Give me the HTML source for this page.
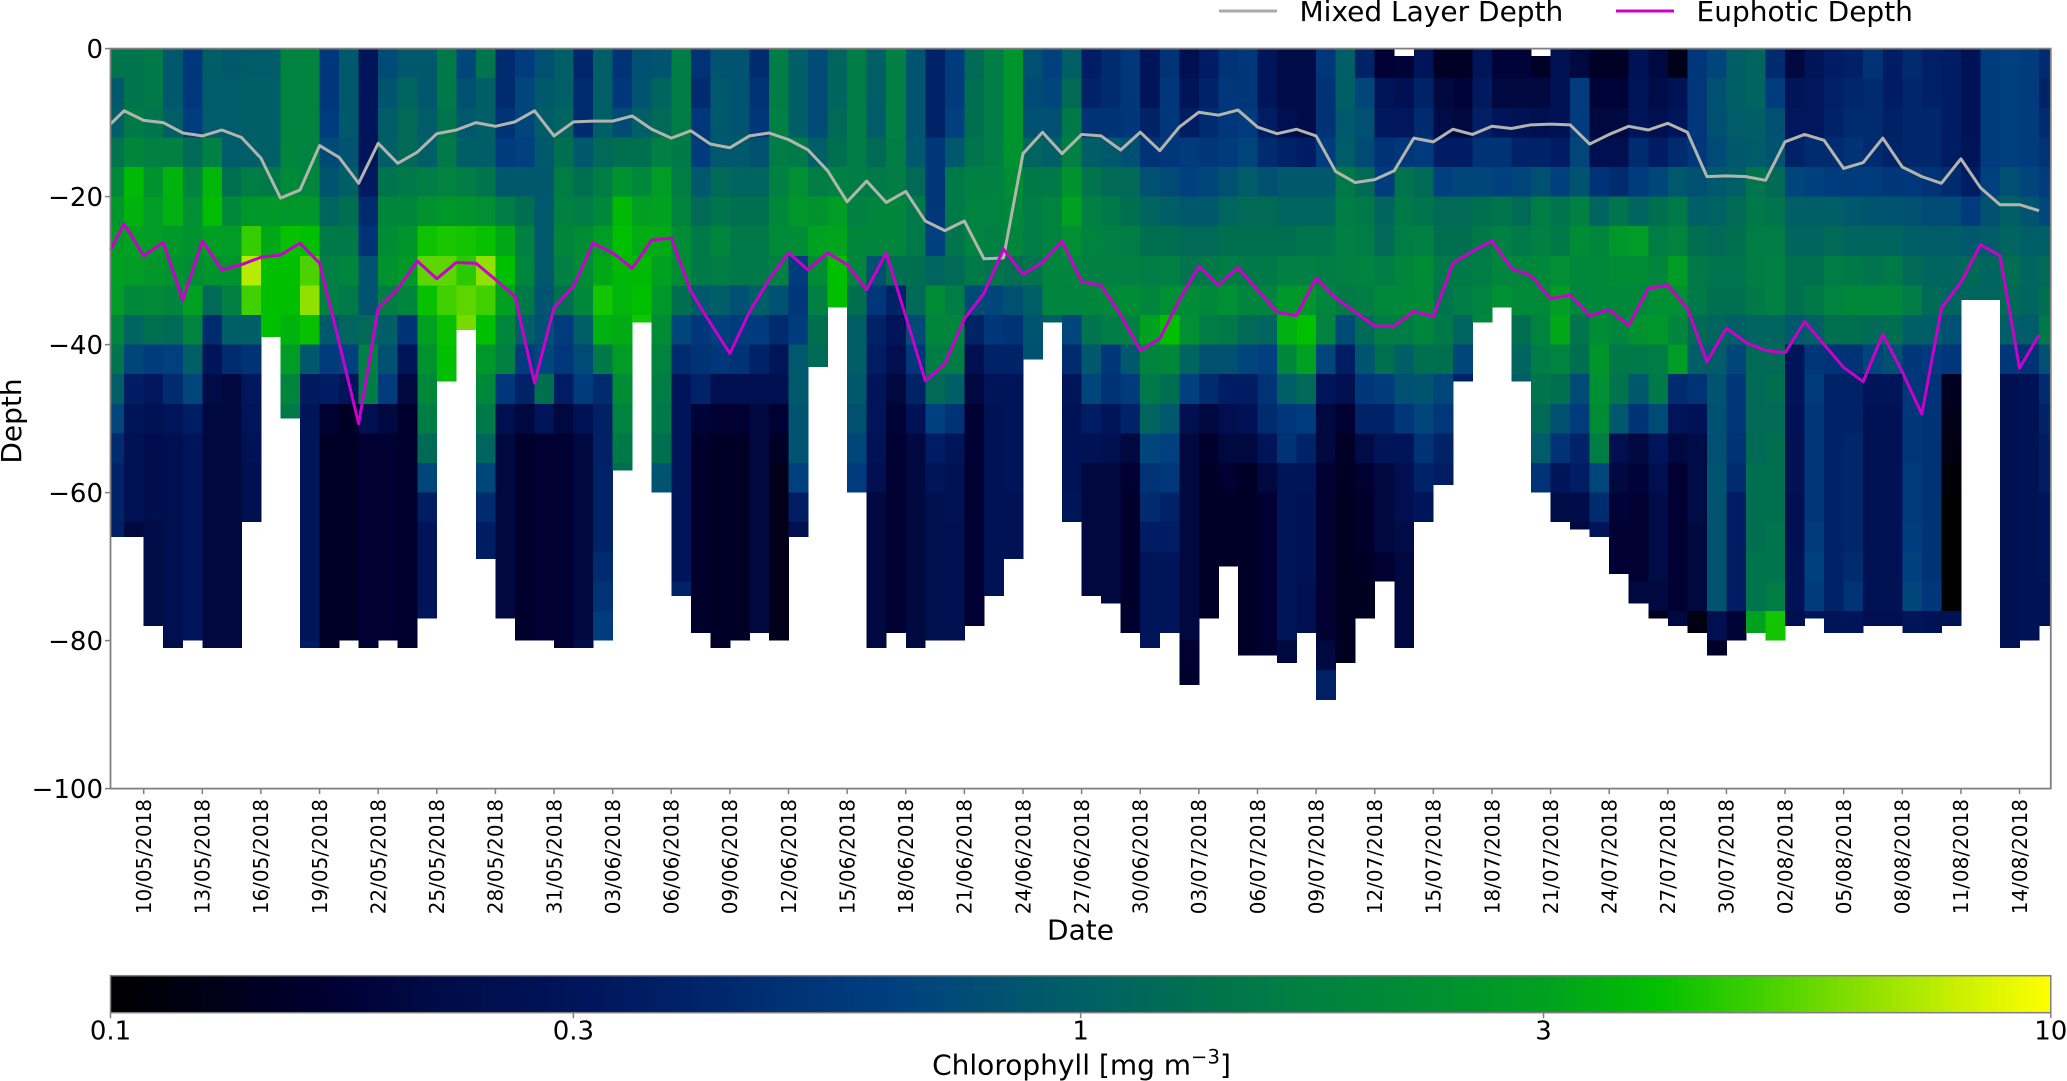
<!DOCTYPE html>
<html>
<head>
<meta charset="utf-8">
<title>Chlorophyll depth section</title>
<style>
html,body{margin:0;padding:0;background:#fff;}
svg{display:block;}
text{font-family:"DejaVu Sans","Liberation Sans",sans-serif;fill:#000;}
</style>
</head>
<body>
<svg id="chart" xmlns="http://www.w3.org/2000/svg" width="2067" height="1081" viewBox="0 0 2067 1081">
  <g id="heatmap"></g>
  <g id="lines"></g>
  <g id="axes"></g>
  <g id="colorbar"></g>
  <g id="legend"></g>
</svg>
<script>
const sampleDays = [-1.7,-1,0,1,2,3,4,5,6,7,8,9,10,11,12,13,14,15,16,17,18,19,20,21,22,23,24,25,26,27,28,29,30,31,32,33,34,35,36,37,38,39,40,41,42,43,44,45,46,47,48,49,50,51,52,53,54,55,56,57,58,59,60,61,62,63,64,65,66,67,68,69,70,71,72,73,74,75,76,77,78,79,80,81,82,83,84,85,86,87,88,89,90,91,92,93,94,95,96,97];
const lastDayEdge = 97.6;
const tickDays = [0,3,6,9,12,15,18,21,24,27,30,33,36,39,42,45,48,51,54,57,60,63,66,69,72,75,78,81,84,87,90,93,96];
const tickLabels = ["10/05/2018","13/05/2018","16/05/2018","19/05/2018","22/05/2018","25/05/2018","28/05/2018","31/05/2018","03/06/2018","06/06/2018","09/06/2018","12/06/2018","15/06/2018","18/06/2018","21/06/2018","24/06/2018","27/06/2018","30/06/2018","03/07/2018","06/07/2018","09/07/2018","12/07/2018","15/07/2018","18/07/2018","21/07/2018","24/07/2018","27/07/2018","30/07/2018","02/08/2018","05/08/2018","08/08/2018","11/08/2018","14/08/2018"];
const depthTicks = [0,-20,-40,-60,-80,-100];
const colorbarTicks = [0.1,0.3,1,3,10];
const mixedLayerDepth = [-10.2,-8.4,-9.7,-10,-11.4,-11.8,-11,-12,-14.8,-20.2,-19.1,-13.1,-14.7,-18.2,-12.8,-15.5,-14,-11.5,-11,-10,-10.5,-9.9,-8.4,-11.8,-9.9,-9.8,-9.8,-9.1,-10.9,-12.1,-11.1,-12.9,-13.4,-11.8,-11.4,-12.3,-13.7,-16.5,-20.7,-17.9,-20.8,-19.3,-23.3,-24.6,-23.3,-28.4,-28.3,-14.2,-11.3,-14.2,-11.6,-11.8,-13.7,-11.3,-13.8,-10.6,-8.6,-9,-8.3,-10.6,-11.5,-10.9,-11.8,-16.6,-18.1,-17.7,-16.5,-12.1,-12.6,-10.9,-11.6,-10.5,-10.8,-10.3,-10.2,-10.3,-12.9,-11.6,-10.5,-11,-10.1,-11.3,-17.3,-17.2,-17.3,-17.8,-12.6,-11.6,-12.4,-16.2,-15.4,-12.1,-16,-17.3,-18.2,-14.9,-18.8,-21.1,-21.1,-21.9];
const euphoticDepth = [-27.2,-23.7,-28,-26.2,-34,-26,-29.9,-29.2,-28.2,-27.9,-26.3,-29,-39.7,-50.7,-35.1,-32.5,-28.7,-31.1,-28.9,-29,-31.2,-33.5,-45.2,-35,-32.1,-26.3,-27.6,-29.7,-25.9,-25.6,-32.8,-37.1,-41.2,-35.6,-31.2,-27.6,-29.9,-27.6,-29.2,-32.6,-27.6,-36.2,-44.9,-42.6,-36.5,-33.1,-27.1,-30.5,-28.9,-26,-31.5,-32,-36,-40.8,-39.2,-34,-29.4,-32,-29.6,-32.6,-35.6,-36.1,-31,-33.7,-35.6,-37.5,-37.5,-35.5,-36.2,-29,-27.4,-26,-29.7,-30.7,-33.8,-33.3,-36.1,-35.3,-37.4,-32.4,-32,-35.1,-42.3,-37.8,-39.7,-40.8,-41.1,-36.9,-40,-43.1,-45,-38.6,-43.7,-49.4,-35.1,-31.6,-26.5,-28,-43.2,-38.7];
const profileBottom = [66,66,78,81,80,81,81,64,39,50,81,81,80,81,80,81,77,45,38,69,77,80,80,81,81,80,57,37,60,74,79,81,80,79,80,66,43,35,60,81,79,81,80,80,78,74,69,42,37,64,74,75,79,81,79,86,77,70,82,82,83,79,88,83,77,72,81,64,59,45,37,35,45,60,64,65,66,71,75,77,78,79,82,80,79,80,78,77,79,79,78,78,79,79,78,34,34,81,80,78];
const profileTop = [0,0,0,0,0,0,0,0,0,0,0,0,0,0,0,0,0,0,0,0,0,0,0,0,0,0,0,0,0,0,0,0,0,0,0,0,0,0,0,0,0,0,0,0,0,0,0,0,0,0,0,0,0,0,0,0,0,0,0,0,0,0,0,0,0,0,1,0,0,0,0,0,0,1,0,0,0,0,0,0,0,0,0,0,0,0,0,0,0,0,0,0,0,0,0,0,0,0,0,0];
const depthBinSize = 4;
/* chlorophyll (mg m-3) per sampling column, one value per 4 m depth bin from the surface down */
const chlorophyll = [
[1.4,.9,1,1.4,2,2.6,2.8,3,2.8,1.9,1.4,1,.7,.45,.4,.4,.38],
[1.4,1.4,1.5,1.9,3.7,3.5,3,2.8,2,1.1,.7,.35,.3,.27,.27,.27,.2],
[1.5,1.5,1.4,1.7,2.4,2.8,2.8,2.6,2.1,1.3,.6,.32,.27,.24,.24,.24,.22,.22,.22,.22],
[.9,.9,1,1.7,3.5,3.4,2.6,2.4,1.9,1.2,.65,.45,.3,.25,.25,.25,.25,.25,.25,.25,.22],
[.55,.55,.62,1.2,1.8,2.3,2.4,2.2,3,1.8,1,.7,.35,.3,.3,.3,.3,.3,.3,.3],
[1,.95,.95,1.7,3.6,3.8,2.9,2.5,1.2,.45,.3,.22,.2,.2,.2,.2,.2,.2,.2,.2,.2],
[.9,.95,.95,.95,1.3,2,2.8,2.5,1.7,1,.45,.2,.2,.2,.2,.2,.2,.2,.2,.2,.2],
[.95,1,1,1,1.6,2.6,4.8,7.5,5,1,.5,.32,.3,.28,.25,.25],
[.95,1,1,1,1.5,2.7,3.2,3.9,3.9,3.9],
[1.8,1.8,1.8,1.9,2.1,2.6,4,3.9,3.9,3.5,2.8,1.9,1.5],
[1.8,1.8,1.8,1.8,1.9,2.6,3.9,5.2,6.5,4,.9,.33,.3,.3,.3,.3,.3,.3,.3,.3,.35],
[.55,.55,.6,.75,.85,1.1,1.5,1.7,1.7,.9,.6,.35,.17,.15,.15,.15,.15,.15,.15,.15,.15],
[.9,.9,.9,.85,1,1.3,1.5,1.9,1.5,1.1,.65,.3,.15,.15,.15,.15,.15,.15,.15,.15],
[.3,.3,.3,.3,.33,.45,.5,.85,.85,1.2,1.7,1.6,.25,.17,.17,.17,.17,.17,.17,.17,.17],
[.75,.85,.95,1,1.4,1.9,2.2,2.4,1.6,1,.8,.6,.2,.17,.17,.17,.17,.17,.17,.17],
[.9,1.1,1.2,1.2,1.5,1.9,2.5,2.7,1.9,.5,.3,.2,.16,.16,.16,.16,.16,.16,.16,.16,.16],
[.9,.9,.95,1,1.6,2.4,4.1,5.5,4,3,2.4,2,1.6,1.2,.7,.35,.3,.3,.3,.3],
[1.5,1.5,1.4,1.5,1.8,2.6,4.3,5.5,5,4,3.9,3.9],
[.7,.8,.9,1,1.6,2.5,4.2,4.6,5.5,6],
[1.4,1,1,1,1.4,2.3,4,6.5,5,3.9,2.6,2,1.5,1.1,.7,.45,.35,.35],
[.45,.45,.5,.6,.9,1.6,3.2,3.9,3,1.9,1.7,.55,.25,.2,.2,.2,.2,.2,.2,.2],
[.6,.7,.7,.65,.9,1.3,1.7,1.9,1.5,1,.6,.4,.2,.16,.16,.16,.16,.16,.16,.16],
[.8,.9,.95,.9,.9,.9,.9,.9,.85,.8,.7,1.3,.3,.17,.17,.17,.17,.17,.17,.17],
[1,1,1.1,1.3,1.6,1.7,1.9,1.7,1.3,.6,.55,.35,.2,.17,.17,.17,.17,.17,.17,.17,.17],
[.42,.45,.45,.9,1.3,1.6,2.2,2.2,2,1,.75,.6,.28,.2,.2,.2,.2,.2,.2,.2,.22],
[1,1,1,1.2,1.6,2,2.8,3.2,4.2,3.4,1.5,.45,.38,.38,.4,.4,.4,.45,.5,.6],
[.5,.55,.75,1.3,2.4,3.7,3.9,3.7,3.6,3.3,2.8,2.2,1.8,1.5,1.3],
[.8,.85,1,1.3,2,2.9,3.3,3.7,3.9,4.2],
[.85,1.1,1.2,1.7,2.8,3,3.3,3,2.6,2.2,1.8,1.6,1.5,1.3,.85],
[1.6,1.6,1.6,1.5,1.6,1.8,2.2,2.2,1.3,.7,.45,.3,.3,.3,.3,.3,.3,.3,.4],
[.5,.45,.55,.6,.9,1.2,1.5,1.5,.9,.55,.5,.4,.18,.16,.16,.16,.16,.16,.16,.16],
[.85,.9,.9,.9,1.2,1.4,1.9,1.6,1,.65,.55,.25,.17,.15,.15,.15,.15,.15,.15,.15,.15],
[.85,.85,.85,.9,1.1,1.3,1.5,1.5,.8,.6,.5,.25,.17,.15,.15,.15,.15,.15,.15,.15],
[.45,.5,.55,.8,1.1,1.3,1.5,1.5,1,.6,.4,.25,.2,.2,.2,.2,.2,.2,.2,.2],
[1.6,1.6,1.7,1.6,1.7,2,2.1,1.7,.8,.45,.3,.25,.17,.15,.13,.13,.13,.13,.13,.13],
[1,1,1,1.5,2.3,2.6,2.2,.6,.55,.6,.9,.9,.85,.85,.65,.35,.25],
[.75,.75,.75,1,1.6,2.4,3,2.2,1.7,1.3,1.2],
[1.1,1.1,1.2,1.3,1.7,2.8,3.1,3.9,3.9],
[1.6,1.6,1.6,1.6,1.6,1.7,1.9,1.9,1.3,1,1,.9,.8,.7,.6],
[1,1,.95,1.2,1.5,1.9,1.9,.8,.55,.4,.35,.3,.3,.28,.25,.2,.2,.2,.2,.2,.2],
[1.7,1.7,1.7,1.6,1.6,1.9,1.9,1.3,.4,.3,.25,.2,.18,.17,.17,.17,.17,.17,.17,.17],
[.85,.85,.85,.9,1.2,1.5,1.5,1.3,1.2,.75,.55,.4,.28,.2,.2,.2,.2,.2,.2,.2,.2],
[.4,.4,.4,.55,.55,.55,.65,1.1,2.2,1.9,1.6,1.2,.65,.35,.3,.25,.25,.25,.25,.25],
[.6,.6,.65,.9,1.5,1.5,1.4,1.2,1.6,1.9,1.6,1,.5,.3,.27,.27,.25,.25,.25,.25],
[1.2,1.3,1.3,1.4,1.7,1.8,1.8,1.5,.75,.4,.25,.2,.17,.17,.17,.17,.17,.17,.17,.17],
[1.6,1.6,1.6,1.6,1.7,1.8,1.7,1.4,.7,.55,.4,.3,.28,.28,.28,.28,.28,.28,.28],
[2.5,2.5,2.5,2.4,2.2,2,1.9,1.3,.8,.5,.4,.3,.3,.3,.3,.27,.27,.27],
[.8,.75,.8,1.1,1.5,1.6,1.6,1.4,1,.85,.8],
[.65,.7,.8,1,1.5,1.8,1.8,1.9,1.9,1],
[1,1.2,1.5,1.7,2.4,3,2.3,1.9,1.8,.7,.45,.3,.28,.28,.28,.3],
[.35,.4,.5,1,1.4,1.7,1.8,1.7,1.9,1.4,.9,.7,.35,.27,.2,.2,.2,.2,.2],
[.45,.45,.5,.9,1.2,1.5,1.7,1.7,2,1.6,.55,.5,.3,.25,.2,.2,.2,.2,.2],
[.55,.55,.55,.8,1.2,1.3,1.6,1.7,2.2,1.7,.9,.6,.4,.2,.17,.16,.16,.16,.16,.16],
[.3,.3,.4,.5,.8,1.1,1.3,1.6,1.9,3,1.8,1.5,1.1,.7,.5,.45,.35,.3,.3,.3,.3],
[.5,.55,.55,.55,.75,1,1.3,1.7,2.3,3.9,2,1.3,.9,.65,.55,.4,.35,.3,.3,.3],
[.25,.3,.35,.6,.65,.9,1.2,1.4,2.2,2.3,1.1,.65,.25,.2,.2,.2,.2,.2,.2,.2,.17,.16],
[.35,.4,.45,.55,.7,.9,1.2,1.5,2,1.6,.8,.45,.2,.16,.15,.15,.15,.15,.15,.15],
[.5,.55,.55,.6,.8,1.1,1.3,1.6,2.3,1.5,.8,.35,.25,.2,.17,.15,.15,.15],
[.55,.55,.6,.7,.95,1.2,1.3,1.5,1.9,1.2,.7,.35,.27,.2,.15,.15,.15,.15,.15,.15,.15],
[.3,.3,.35,.45,.8,1.2,1.3,1.5,1.8,1.1,.65,.5,.45,.3,.2,.17,.17,.17,.17,.17,.17],
[.22,.22,.25,.4,.9,1.1,1.3,1.7,2.6,3.4,1.9,1,.55,.5,.3,.3,.3,.3,.3,.3,.2],
[.22,.22,.22,.35,.9,1.1,1.4,1.7,2.6,3.9,3,1.2,.6,.4,.3,.28,.28,.28,.25,.25],
[.55,.5,.5,.6,.9,1.1,1.4,1.6,1.9,1.8,.7,.3,.2,.2,.17,.17,.17,.17,.17,.17,.2,.38],
[1,1,.9,.95,1.5,1.6,1.7,1.7,1.5,.75,.35,.25,.17,.15,.15,.14,.14,.14,.14,.14,.14],
[.4,.7,.8,.75,1.2,1.5,1.6,1.8,1.6,1.2,.85,.55,.4,.22,.17,.16,.16,.15,.14,.14],
[.17,.3,.32,.5,.6,1.1,1.2,1.6,2,1.6,1.3,.6,.4,.3,.2,.2,.2,.17],
[.18,.25,.32,.55,1.4,1.5,1.6,1.9,2,1.6,1,.8,.55,.3,.25,.25,.22,.2,.2,.2,.2],
[.3,.4,.45,.6,1.2,1.4,1.7,2.2,2.1,1.9,1.3,.85,.7,.5,.4,.3],
[.15,.2,.22,.35,.65,1.2,1.3,1.5,1.4,1.5,1.3,.7,.55,.4,.35],
[.15,.18,.2,.35,.7,1.2,1.3,1.5,1.6,1.1,.7,.4],
[.3,.33,.37,.5,.7,1.3,1.5,1.6,1.8,2],
[.18,.2,.3,.5,.65,1.4,1.7,1.9,2.3],
[.18,.2,.27,.4,.7,1.2,1.5,1.9,2.1,1.3,1.1,1],
[.15,.2,.25,.4,.8,1.6,1.7,2,2.1,1.8,1.6,1.4,1.2,.95,.5],
[.27,.27,.27,.35,.65,1.4,1.5,2.3,2.8,3.2,1.8,1.3,.8,.5,.3,.22],
[.2,.6,.6,.7,.85,1.7,2.2,2,1.9,1.4,1.3,.75,.6,.4,.35,.22,.2],
[.15,.18,.2,.25,.5,1.1,1.9,2,2,2.2,2.5,2.3,2.2,1.6,.7,.45,.3],
[.15,.18,.2,.25,.45,1.4,2.6,2.2,2,1.9,1.5,1.4,.9,.25,.2,.18,.17,.17],
[.28,.3,.3,.45,.6,1.1,2.8,2.2,2,2.4,1.5,.9,.5,.2,.18,.17,.17,.17,.2],
[.2,.22,.25,.35,.7,1.3,1.6,1.9,2.3,2.6,1.6,1.5,.75,.3,.25,.22,.22,.22,.2,.13],
[.13,.28,.3,.45,.9,1.5,1.8,2.8,2.3,1.9,2.8,.45,.3,.2,.17,.17,.17,.17,.17,.2],
[.55,.55,.55,.55,.8,1,1.3,1.5,1.5,1.2,1,.5,.28,.22,.22,.22,.2,.2,.2,.12],
[.7,.8,.8,.75,.9,1.05,1.2,1.4,1.3,1.1,.95,.85,.8,.8,.85,.85,.85,.85,.85,.25,.15],
[1,1,.95,.9,1,1.2,1.3,1.4,1.3,1,.7,.55,.55,.5,.45,.35,.35,.35,.35,.18],
[1.1,1.1,1,.95,1.4,1.5,1.6,1.6,1.5,1.1,1.2,1.2,1.2,1.2,1.3,1.3,1.3,1.4,1.4,3],
[.45,.6,.8,.85,1.2,1.4,1.6,1.7,1.7,1.1,1.2,1.3,1.2,1.3,1.3,1.3,1.4,1.4,1.6,4.2],
[.2,.3,.32,.4,.7,1,1.1,1.3,1.3,.9,.3,.3,.28,.27,.27,.25,.25,.27,.28,.25],
[.3,.32,.32,.45,.65,1,1.1,1.3,1.5,1,.55,.6,.55,.55,.55,.55,.6,.65,.6,.3],
[.35,.38,.4,.45,.6,1,1.2,1.6,1.8,1.3,.5,.4,.4,.4,.4,.4,.4,.4,.4,.3],
[.38,.42,.45,.5,.6,.9,1.1,1.5,2,1.3,.5,.4,.4,.42,.42,.42,.42,.45,.5,.3],
[.5,.45,.45,.45,.6,.85,1.1,1.4,2,1.2,.7,.3,.28,.27,.27,.27,.27,.27,.27,.25],
[.35,.35,.38,.4,.55,.85,1.1,1.5,2,1.3,.8,.3,.27,.27,.27,.27,.27,.27,.27,.25],
[.45,.42,.42,.42,.55,.8,1,1.2,1.6,1,.55,.55,.55,.55,.6,.6,.62,.65,.7,.3],
[.38,.38,.42,.42,.5,.75,.95,1.1,1.2,1,.6,.5,.5,.5,.5,.5,.5,.5,.55,.28],
[.35,.35,.35,.35,.45,.75,.95,1.1,1.1,.8,.55,.14,.13,.12,.11,.1,.1,.1,.1,.28],
[.28,.28,.28,.3,.35,.6,.9,1.2,1.1],
[.6,.6,.6,.6,.65,.8,.95,1.1,1.1],
[.65,.65,.65,.65,.8,1,1.1,1.3,1.2,1,.55,.25,.25,.25,.25,.25,.25,.25,.25,.25,.28],
[.6,.6,.6,.6,.7,.85,1,1.1,1.1,.95,.5,.28,.28,.28,.28,.28,.28,.28,.28,.28],
[.45,.4,.45,.5,.6,.7,1,1.2,1.3,1.5,.8,.45,.4,.35,.35,.3,.3,.3,.28,.28]
];
const colormapValues = [0.1,0.17,0.22,0.3,0.4,0.5,0.64,0.8,1,1.3,1.6,2.2,3,3.9,5,6.5,8,10];
const colormapColors = ["#000000","#000033","#000c48","#00145a","#002368","#003276","#003f80","#005072","#005f66","#006f50","#007d45","#008c35","#00a020","#00bf00","#40d000","#90e000","#c8f000","#ffff00"];

const NS = 'http://www.w3.org/2000/svg';
const plot = {left:110.5, right:2050.8, top:48.6, bottom:788.6};
const bar = {left:110.5, right:2050.8, top:975.7, bottom:1012.7};
const dayOrigin = 143.7, pxPerDay = 19.54;
function xOfDay(d){ return dayOrigin + d * pxPerDay; }
function yOfDepth(d){ return plot.top + (-d) * (plot.bottom - plot.top) / 100; }
function tOfValue(v){ return Math.log10(v / 0.1) / 2; }
function barX(v){ return bar.left + tOfValue(v) * (bar.right - bar.left); }
function hexToRgb(h){ return [parseInt(h.slice(1,3),16),parseInt(h.slice(3,5),16),parseInt(h.slice(5,7),16)]; }
function colorOf(v){
  const t = Math.max(0, Math.min(1, tOfValue(v)));
  for (let i = 0; i < colormapValues.length - 1; i++) {
    const t0 = tOfValue(colormapValues[i]), t1 = tOfValue(colormapValues[i + 1]);
    if (t <= t1) {
      const f = (t - t0) / (t1 - t0);
      const a = hexToRgb(colormapColors[i]), b = hexToRgb(colormapColors[i + 1]);
      return 'rgb(' + a.map((c, k) => Math.round(c + (b[k] - c) * f)).join(',') + ')';
    }
  }
  return colormapColors[colormapColors.length - 1];
}
function make(tag, attrs, parent){
  const el = document.createElementNS(NS, tag);
  for (const k in attrs) el.setAttribute(k, attrs[k]);
  parent.appendChild(el);
  return el;
}

/* heatmap */
const heatmap = document.getElementById('heatmap');
chlorophyll.forEach(function(profile, c){
  const x0 = xOfDay(sampleDays[c]);
  const x1 = c + 1 < sampleDays.length ? xOfDay(sampleDays[c + 1]) : xOfDay(lastDayEdge);
  profile.forEach(function(v, r){
    const d0 = Math.max(r * depthBinSize, profileTop[c]);
    const d1 = Math.min((r + 1) * depthBinSize, profileBottom[c]);
    if (d1 <= d0) return;
    const y0 = yOfDepth(-d0), y1 = yOfDepth(-d1);
    const cell = make('rect', {x:x0.toFixed(2), y:y0.toFixed(2), width:(x1 - x0 + 0.4).toFixed(2), height:(y1 - y0).toFixed(2), fill:colorOf(v), 'shape-rendering':'crispEdges'}, heatmap);
    
    
  });
});

/* lines */
const linesGroup = document.getElementById('lines');
function linePath(series){
  return series.map((v, i) => (i ? 'L' : 'M') + xOfDay(sampleDays[i]).toFixed(2) + ' ' + yOfDepth(v).toFixed(2)).join(' ');
}
const mldLine = make('path', {d:linePath(mixedLayerDepth), fill:'none', stroke:'#b4b4ae', 'stroke-width':3, 'stroke-linejoin':'round'}, linesGroup);


const euLine = make('path', {d:linePath(euphoticDepth), fill:'none', stroke:'#cc00cc', 'stroke-width':3, 'stroke-linejoin':'round'}, linesGroup);



/* axes */
const axes = document.getElementById('axes');
const frame = make('rect', {x:plot.left, y:plot.top, width:plot.right - plot.left, height:plot.bottom - plot.top, fill:'none', stroke:'#808080', 'stroke-width':1.8}, axes);


depthTicks.forEach(function(d){
  const y = yOfDepth(d);
  const tick = make('line', {x1:plot.left - 5.5, x2:plot.left, y1:y, y2:y, stroke:'#808080', 'stroke-width':1.5}, axes);
  
  
  const label = make('text', {x:103, y:y + 9.5, 'text-anchor':'end', 'font-size':26}, axes);
  label.textContent = String(d).replace('-', '\u2212');
  
  
});
tickDays.forEach(function(d, i){
  const x = xOfDay(d);
  const tick = make('line', {x1:x, x2:x, y1:plot.bottom, y2:plot.bottom + 5.5, stroke:'#808080', 'stroke-width':1.5}, axes);
  
  
  const label = make('text', {x:x + 7.3, y:799, 'text-anchor':'end', 'font-size':20, transform:'rotate(-90 ' + (x + 7.3) + ' 799)'}, axes);
  label.textContent = tickLabels[i];
  
  
});
const xTitle = make('text', {x:1080.5, y:939.5, 'text-anchor':'middle', 'font-size':28}, axes);
xTitle.textContent = 'Date';


const yTitle = make('text', {x:21, y:421, 'text-anchor':'middle', 'font-size':28, transform:'rotate(-90 21 421)'}, axes);
yTitle.textContent = 'Depth';



/* colorbar */
const cb = document.getElementById('colorbar');
const steps = 256;
for (let i = 0; i < steps; i++) {
  const v0 = 0.1 * Math.pow(100, (i + 0.5) / steps);
  const w = (bar.right - bar.left) / steps;
  const seg = make('rect', {x:(bar.left + i * w).toFixed(2), y:bar.top, width:(w + 0.5).toFixed(2), height:bar.bottom - bar.top, fill:colorOf(v0), 'shape-rendering':'crispEdges'}, cb);
  
  
}
const cbFrame = make('rect', {x:bar.left, y:bar.top, width:bar.right - bar.left, height:bar.bottom - bar.top, fill:'none', stroke:'#808080', 'stroke-width':1.5}, cb);


colorbarTicks.forEach(function(v){
  const x = barX(v);
  const tick = make('line', {x1:x, x2:x, y1:bar.bottom, y2:bar.bottom + 5.5, stroke:'#808080', 'stroke-width':1.5}, cb);
  
  
  const label = make('text', {x:x, y:1039.5, 'text-anchor':'middle', 'font-size':26}, cb);
  label.textContent = String(v);
  
  
});
const cbTitle = make('text', {x:1081.5, y:1074.5, 'text-anchor':'middle', 'font-size':28}, cb);
cbTitle.appendChild(document.createTextNode('Chlorophyll [mg m'));
const sup = make('tspan', {dy:-11, 'font-size':19.6}, cbTitle);
sup.textContent = '\u22123';
const close = make('tspan', {dy:11}, cbTitle);
close.textContent = ']';



/* legend */
const legend = document.getElementById('legend');
const legendNames = ['Mixed Layer Depth', 'Euphotic Depth'];
const legendColors = ['#a9a9a9', '#cc00cc'];
const legendLineX = [1219, 1616];
legendNames.forEach(function(name, i){
  const sw = make('line', {x1:legendLineX[i], x2:legendLineX[i] + 58, y1:11, y2:11, stroke:legendColors[i], 'stroke-width':3}, legend);
  
  
  const t = make('text', {x:legendLineX[i] + 80.5, y:21, 'font-size':28}, legend);
  t.textContent = name;
  
  
});
</script>
</body>
</html>
